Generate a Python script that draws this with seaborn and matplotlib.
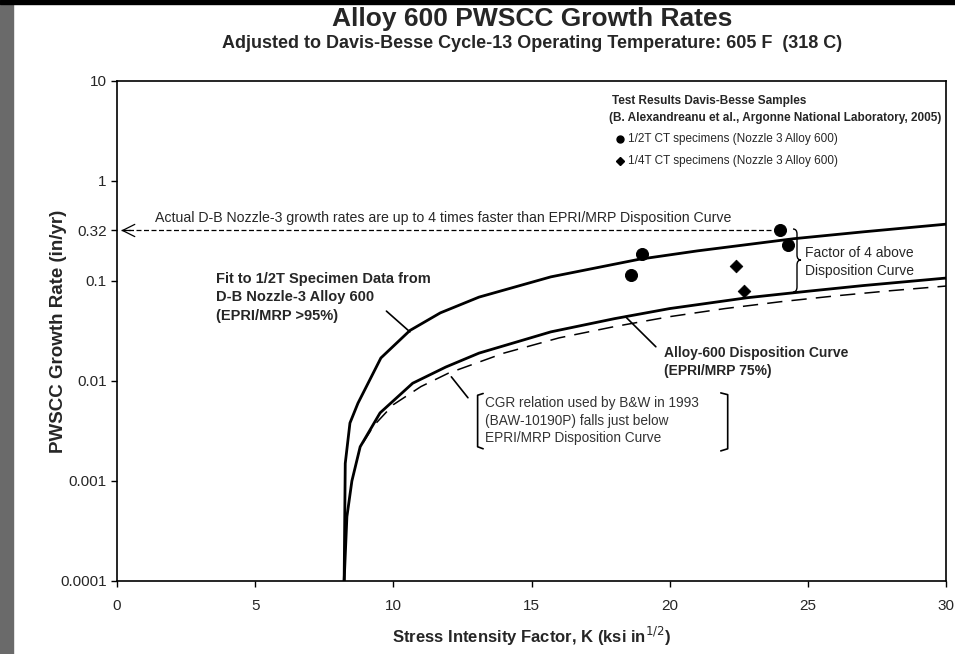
import numpy as np
import pandas as pd
import matplotlib
matplotlib.use("Agg")
import matplotlib.pyplot as plt
import seaborn as sns
from matplotlib.patches import Rectangle, PathPatch
from matplotlib.path import Path

# Values (K in ksi*in^0.5, growth rate in in/yr)
k_fit = [8.22, 8.26, 8.43, 8.72, 9.55, 10.6, 11.7, 13.1, 15.7, 18.9, 21.0, 24.5, 27.0, 30.0]
cgr_fit = [0.0001, 0.0015, 0.0038, 0.006, 0.017, 0.032, 0.048, 0.069, 0.11, 0.165, 0.20, 0.265, 0.31, 0.37]

k_disp = [8.22, 8.32, 8.5, 8.8, 9.52, 10.7, 11.9, 13.1, 15.7, 18.0, 20.0, 22.8, 25.0, 27.0, 30.0]
cgr_disp = [0.0001, 0.00044, 0.001, 0.0022, 0.0048, 0.0095, 0.0138, 0.019, 0.031, 0.042, 0.053, 0.068, 0.079, 0.09, 0.107]

k_bw = [8.9, 9.3, 10.0, 11.0, 12.0, 14.0, 16.0, 18.0, 20.0, 22.0, 24.0, 26.0, 28.0, 30.0]
cgr_bw = [0.0024, 0.0036, 0.0058, 0.0088, 0.012, 0.019, 0.027, 0.035, 0.044, 0.053, 0.062, 0.071, 0.08, 0.089]

k_half = [18.6, 19.0, 24.0, 24.3]
cgr_half = [0.115, 0.185, 0.32, 0.23]
k_quarter = [22.4, 22.7]
cgr_quarter = [0.14, 0.079]

y_ticks = [0.0001, 0.001, 0.01, 0.1, 0.32, 1, 10]
y_tick_labels = ['0.0001', '0.001', '0.01', '0.1', '0.32', '1', '10']
x_ticks = [0, 5, 10, 15, 20, 25, 30]

sns.set_style("ticks")
plt.rcParams['font.family'] = ['Liberation Sans', 'DejaVu Sans']

W, H = 955, 654
fig = plt.figure(figsize=(W / 100, H / 100), dpi=100)
ax = fig.add_axes([117 / W, 1 - 581 / H, (946 - 117) / W, 500 / H])

# scan artefacts at the edges
fig.patches.append(Rectangle((0, 0), 13 / W, 1, transform=fig.transFigure, color='#6a6a6a', zorder=0))
fig.patches.append(Rectangle((0, 1 - 4 / H), 1, 4 / H, transform=fig.transFigure, color='black', zorder=0))

df_fit = pd.DataFrame({'K': k_fit, 'CGR': cgr_fit})
df_disp = pd.DataFrame({'K': k_disp, 'CGR': cgr_disp})
df_bw = pd.DataFrame({'K': k_bw, 'CGR': cgr_bw})

sns.lineplot(data=df_bw, x='K', y='CGR', ax=ax, color='black', lw=1.1, sort=False,
             estimator=None, linestyle=(0, (10, 6)))
sns.lineplot(data=df_disp, x='K', y='CGR', ax=ax, color='black', lw=2.0, sort=False, estimator=None)
sns.lineplot(data=df_fit, x='K', y='CGR', ax=ax, color='black', lw=2.0, sort=False, estimator=None)

sns.scatterplot(x=k_half, y=cgr_half, ax=ax, marker='o', s=75, color='black', edgecolor='black', zorder=5)
sns.scatterplot(x=k_quarter, y=cgr_quarter, ax=ax, marker='D', s=42, color='black', edgecolor='black', zorder=5)

ax.set_yscale('log')
ax.set_xlim(0, 30)
ax.set_ylim(1e-4, 10)
ax.set_yticks(y_ticks)
ax.set_yticklabels(y_tick_labels)
ax.minorticks_off()
ax.set_xticks(x_ticks)
ax.tick_params(axis='both', labelsize=11, length=4, width=1, direction='out', color='black')
ax.tick_params(axis='x', pad=9)
for s in ax.spines.values():
    s.set_linewidth(1.2)
    s.set_color('black')

ax.set_xlabel('Stress Intensity Factor, K (ksi in$^{1/2}$)', fontsize=12, fontweight='bold')
ax.set_ylabel('PWSCC Growth Rate (in/yr)', fontsize=13.5, fontweight='bold')
ax.xaxis.set_label_coords(0.5, -0.088)
ax.yaxis.set_label_coords(-0.06, 0.5)

fig.text(0.557, 1 - 19 / H, 'Alloy 600 PWSCC Growth Rates', ha='center', va='center',
         fontsize=19, fontweight='bold')
fig.text(0.557, 1 - 44 / H, 'Adjusted to Davis-Besse Cycle-13 Operating Temperature: 605 F  (318 C)',
         ha='center', va='center', fontsize=13, fontweight='bold')

# legend block
ax.text(17.9, 6.3, 'Test Results Davis-Besse Samples', fontsize=8.5, fontweight='bold', va='center')
ax.text(17.8, 4.27, '(B. Alexandreanu et al., Argonne National Laboratory, 2005)', fontsize=8.5,
        fontweight='bold', va='center')
ax.plot([18.2], [2.63], marker='o', color='black', ms=5)
ax.text(18.5, 2.63, '1/2T CT specimens (Nozzle 3 Alloy 600)', fontsize=8.5, va='center')
ax.plot([18.2], [1.6], marker='D', color='black', ms=4)
ax.text(18.5, 1.6, '1/4T CT specimens (Nozzle 3 Alloy 600)', fontsize=8.5, va='center')

# dashed arrow to 0.32
arrow_y = cgr_half[2]
ax.plot([0.15, k_half[2] - 0.3], [arrow_y, arrow_y], color='black', lw=0.9, linestyle=(0, (4, 2)))
ax.annotate('', xy=(0.05, arrow_y), xytext=(0.6, arrow_y),
            arrowprops=dict(arrowstyle='->', lw=0.9, color='black', mutation_scale=22))
ax.text(1.37, 0.43, 'Actual D-B Nozzle-3 growth rates are up to 4 times faster than EPRI/MRP Disposition Curve',
        fontsize=10.2, va='center')

# fit label
ax.text(3.6, 0.069, 'Fit to 1/2T Specimen Data from\nD-B Nozzle-3 Alloy 600\n(EPRI/MRP >95%)',
        fontsize=10.5, fontweight='bold', va='center', linespacing=1.4)
ax.plot([9.75, 10.6], [0.05, 0.031], color='black', lw=1.2)

# disposition label
ax.text(19.8, 0.0155, 'Alloy-600 Disposition Curve\n(EPRI/MRP 75%)', fontsize=10, fontweight='bold',
        va='center', linespacing=1.4)
ax.plot([18.4, 19.5], [0.044, 0.022], color='black', lw=1.2)

# CGR relation note with brackets
ax.text(13.3, 0.004, 'CGR relation used by B&W in 1993\n(BAW-10190P) falls just below\nEPRI/MRP Disposition Curve',
        fontsize=9.8, va='center', color='#333333', linespacing=1.3)
ax.plot([12.1, 12.7], [0.011, 0.0068], color='black', lw=1.2)
ax.plot([13.25, 13.05, 13.05, 13.25], [0.0075, 0.0072, 0.0022, 0.0021], color='black', lw=1.2)
ax.plot([21.85, 22.1, 22.1, 21.85], [0.0076, 0.0073, 0.0021, 0.002], color='black', lw=1.2)


# factor of 4 brace, drawn in pixel space and mapped to data
def px2data(px, py):
    return (px - 117) / 829 * 30, 10 ** (1 - (py - 81) / 100)


brace_px = [(793, 229), (797, 229), (797, 234), (797, 255), (797, 260), (801, 260),
            (797, 260), (797, 265), (797, 287), (797, 292), (793, 292)]
brace_codes = [Path.MOVETO, Path.CURVE3, Path.CURVE3, Path.LINETO, Path.CURVE3, Path.CURVE3,
               Path.CURVE3, Path.CURVE3, Path.LINETO, Path.CURVE3, Path.CURVE3]
brace = Path([px2data(*p) for p in brace_px], brace_codes)
ax.add_patch(PathPatch(brace, fc='none', ec='black', lw=1.0))
ax.text(24.9, 0.155, 'Factor of 4 above\nDisposition Curve', fontsize=10, va='center', linespacing=1.35)

fig.savefig('out.png', dpi=100)
